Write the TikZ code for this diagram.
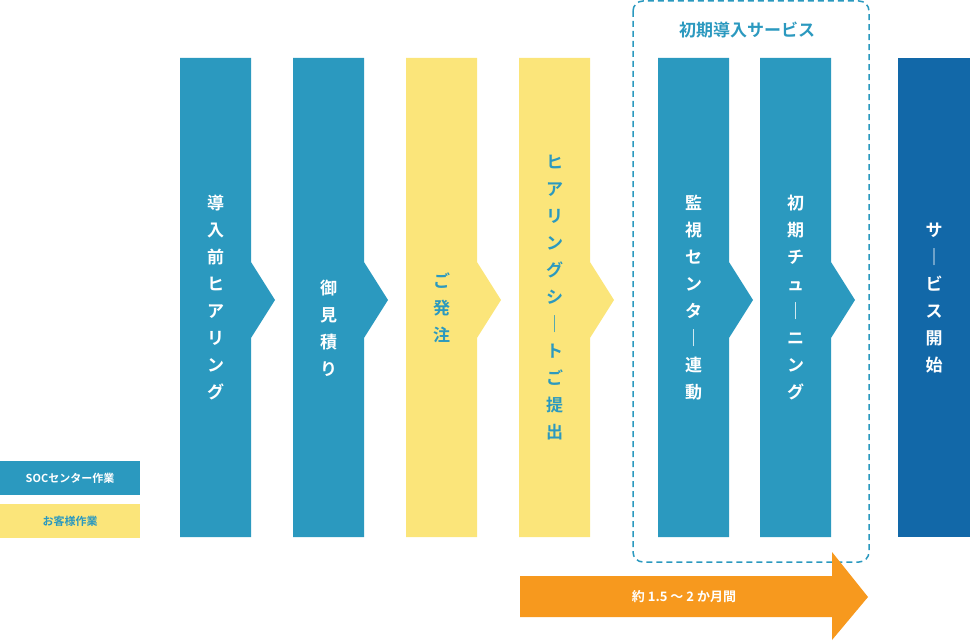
\documentclass[tikz,border=0pt]{standalone}
\usepackage{fontspec}
\newfontfamily\jp{Noto Sans CJK JP}[BoldFont={Noto Sans CJK JP Bold}]
\definecolor{cb}{HTML}{2B99BF}
\definecolor{cy}{HTML}{FBE57A}
\definecolor{co}{HTML}{F7991E}
\definecolor{cd}{HTML}{1268A8}
\begin{document}
\begin{tikzpicture}[x=1pt,y=-1pt,
 vtxt/.style={align=center,font=\jp\bfseries\fontsize{17}{27}\selectfont},
 lg/.style={font=\jp\bfseries\fontsize{11}{13}\selectfont}]
\useasboundingbox (0,0) rectangle (970,642);
\newcommand\stepbar[3]{% x, color, name
 \fill[#2] (#1,58) -- (#1+71,58) -- (#1+71,262) -- (#1+95,300) -- (#1+71,338) -- (#1+71,537) -- (#1,537) -- cycle;
 \coordinate (#3) at (#1+35.5,298);}
\stepbar{180}{cb}{b1}
\stepbar{293}{cb}{b2}
\stepbar{406}{cy}{b3}
\stepbar{519}{cy}{b4}
\stepbar{658}{cb}{b5}
\stepbar{760}{cb}{b6}
\fill[cd] (898,58) rectangle (970,537);
\coordinate (b7) at (934,298);
\node[vtxt,white] (t1) at (b1) {導\\入\\前\\ヒ\\ア\\リ\\ン\\グ};
\node[vtxt,white] (t2) at ([yshift=-30]b2) {御\\見\\積\\り};
\node[vtxt,cb] (t3) at ([yshift=-10]b3) {ご\\発\\注};
\node[vtxt,cb] (t4) at (b4) {ヒ\\ア\\リ\\ン\\グ\\シ\\｜\\ト\\ご\\提\\出};
\node[vtxt,white] (t5) at (b5) {監\\視\\セ\\ン\\タ\\｜\\連\\動};
\node[vtxt,white] (t6) at (b6) {初\\期\\チ\\ュ\\｜\\ニ\\ン\\グ};
\node[vtxt,white] (t7) at (b7) {サ\\｜\\ビ\\ス\\開\\始};
\draw[cb,line width=1.5,dash pattern=on 6 off 4,rounded corners=10] (633,1) rectangle (869,562);
\node[cb,font=\jp\bfseries\fontsize{17}{20}\selectfont] (ttl) at (747,30) {初期導入サービス};
\fill[cb] (0,461) rectangle (140,495);
\node[lg,white] (l1) at (70,478) {SOCセンター作業};
\fill[cy] (0,504) rectangle (140,538);
\node[lg,cb] (l2) at (70,521) {お客様作業};
\fill[co] (520,576) -- (832,576) -- (832,552) -- (868,597) -- (832,640) -- (832,617) -- (520,617) -- cycle;
\node[white,font=\jp\bfseries\fontsize{13}{15}\selectfont] (ar) at (684,597) {約 1.5 〜 2 か月間};
\end{tikzpicture}
\end{document}
